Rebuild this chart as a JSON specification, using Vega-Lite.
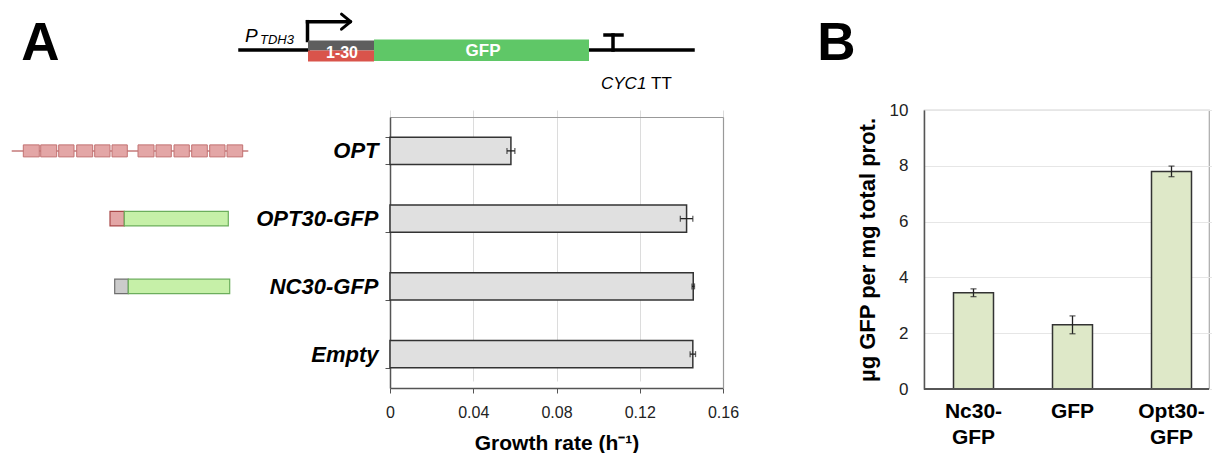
{
  "$schema": "https://vega.github.io/schema/vega-lite/v6.json",
  "padding": 0,
  "background": "white",
  "config": {
    "font": "Liberation Sans",
    "view": {"stroke": null},
    "axis": {"labelFont": "Liberation Sans", "titleFont": "Liberation Sans"}
  },
  "spacing": 0,
  "resolve": {"scale": {"x": "independent", "y": "independent", "color": "independent"}},
  "vconcat": [
    {
      "width": 1212,
      "height": 99,
      "layer": [
        {
          "data": {"values": [
            {"x": 24.0, "x2": 30.8, "y": 5.0, "y2": 5.0},
            {"x": 58.9, "x2": 69.3, "y": 5.0, "y2": 5.0},
            {"x": 30.75, "x2": 30.75, "y": 2.17, "y2": 4.05},
            {"x": 30.75, "x2": 34.9, "y": 2.17, "y2": 2.17},
            {"x": 61.3, "x2": 61.3, "y": 3.5, "y2": 5.0},
            {"x": 60.5, "x2": 62.2, "y": 3.5, "y2": 3.5}
          ]},
          "mark": {"type": "rule", "color": "#000", "strokeWidth": 3.5, "strokeCap": "square"},
          "encoding": {
            "x": {"field": "x", "type": "quantitative", "scale": {"domain": [0, 121.2], "nice": false, "zero": false}, "axis": null},
            "x2": {"field": "x2"},
            "y": {"field": "y", "type": "quantitative", "scale": {"domain": [0, 9.9], "nice": false, "zero": false, "reverse": true}, "axis": null},
            "y2": {"field": "y2"}
          }
        },
        {
          "data": {"values": [
            {"x": 34.15, "x2": 35.07, "y": 1.42, "y2": 2.17},
            {"x": 34.15, "x2": 35.07, "y": 2.92, "y2": 2.17}
          ]},
          "mark": {"type": "rule", "color": "#000", "strokeWidth": 3, "strokeCap": "round"},
          "encoding": {
            "x": {"field": "x", "type": "quantitative"},
            "x2": {"field": "x2"},
            "y": {"field": "y", "type": "quantitative"},
            "y2": {"field": "y2"}
          }
        },
        {
          "data": {"values": [
            {"part": "leader", "x": 30.8, "x2": 37.4, "y": 4.05, "y2": 5.05},
            {"part": "codons", "x": 30.8, "x2": 37.4, "y": 5.05, "y2": 6.15},
            {"part": "gfp", "x": 37.4, "x2": 58.9, "y": 3.95, "y2": 6.1}
          ]},
          "mark": {"type": "rect"},
          "encoding": {
            "x": {"field": "x", "type": "quantitative"},
            "x2": {"field": "x2"},
            "y": {"field": "y", "type": "quantitative"},
            "y2": {"field": "y2"},
            "color": {"field": "part", "type": "nominal", "scale": {"domain": ["leader", "codons", "gfp"], "range": ["#5e5e5e", "#d9544b", "#5fc767"]}, "legend": null}
          }
        },
        {
          "data": {"values": [{"label": "A", "x": 4.05, "y": 6.0}, {"label": "B", "x": 83.63, "y": 6.0}]},
          "mark": {"type": "text", "fontSize": 53, "fontWeight": "bold", "align": "center", "baseline": "alphabetic", "color": "#000"},
          "encoding": {
            "x": {"field": "x", "type": "quantitative"},
            "y": {"field": "y", "type": "quantitative"},
            "text": {"field": "label"}
          }
        },
        {
          "data": {"values": [{"label": "1-30", "x": 34.2, "y": 5.3}]},
          "mark": {"type": "text", "fontSize": 16, "fontWeight": "bold", "align": "center", "baseline": "middle", "color": "#fff"},
          "encoding": {
            "x": {"field": "x", "type": "quantitative"},
            "y": {"field": "y", "type": "quantitative"},
            "text": {"field": "label"}
          }
        },
        {
          "data": {"values": [{"label": "GFP", "x": 48.3, "y": 5.1}]},
          "mark": {"type": "text", "fontSize": 17, "fontWeight": "bold", "align": "center", "baseline": "middle", "color": "#fff"},
          "encoding": {
            "x": {"field": "x", "type": "quantitative"},
            "y": {"field": "y", "type": "quantitative"},
            "text": {"field": "label"}
          }
        },
        {
          "data": {"values": [{"label": "P", "x": 24.5, "y": 4.17}]},
          "mark": {"type": "text", "fontSize": 19, "fontStyle": "italic", "align": "left", "baseline": "alphabetic", "color": "#000"},
          "encoding": {
            "x": {"field": "x", "type": "quantitative"},
            "y": {"field": "y", "type": "quantitative"},
            "text": {"field": "label"}
          }
        },
        {
          "data": {"values": [{"label": "TDH3", "x": 26.0, "y": 4.42}]},
          "mark": {"type": "text", "fontSize": 13, "fontStyle": "italic", "align": "left", "baseline": "alphabetic", "color": "#000"},
          "encoding": {
            "x": {"field": "x", "type": "quantitative"},
            "y": {"field": "y", "type": "quantitative"},
            "text": {"field": "label"}
          }
        },
        {
          "data": {"values": [{"label": "CYC1", "x": 60.1, "y": 8.85}]},
          "mark": {"type": "text", "fontSize": 17, "fontStyle": "italic", "align": "left", "baseline": "alphabetic", "color": "#000"},
          "encoding": {
            "x": {"field": "x", "type": "quantitative"},
            "y": {"field": "y", "type": "quantitative"},
            "text": {"field": "label"}
          }
        },
        {
          "data": {"values": [{"label": "TT", "x": 65.1, "y": 8.85}]},
          "mark": {"type": "text", "fontSize": 17, "align": "left", "baseline": "alphabetic", "color": "#000"},
          "encoding": {
            "x": {"field": "x", "type": "quantitative"},
            "y": {"field": "y", "type": "quantitative"},
            "text": {"field": "label"}
          }
        }
      ]
    },
    {
      "spacing": 116,
      "resolve": {"scale": {"x": "independent", "y": "independent"}},
      "hconcat": [
        {
          "spacing": 0,
          "resolve": {"scale": {"x": "independent", "y": "independent"}},
          "hconcat": [
            {
              "width": 250,
              "height": 278,
              "data": {"values": [
                {"construct": "OPT", "part": "line", "x": 1.17, "x2": 24.83},
                {"construct": "OPT", "part": "opt", "x": 2.33, "x2": 3.93},
                {"construct": "OPT", "part": "opt", "x": 4.07, "x2": 5.67},
                {"construct": "OPT", "part": "opt", "x": 5.87, "x2": 7.4},
                {"construct": "OPT", "part": "opt", "x": 7.67, "x2": 9.27},
                {"construct": "OPT", "part": "opt", "x": 9.47, "x2": 11.0},
                {"construct": "OPT", "part": "opt", "x": 11.2, "x2": 12.73},
                {"construct": "OPT", "part": "opt", "x": 13.8, "x2": 15.4},
                {"construct": "OPT", "part": "opt", "x": 15.6, "x2": 17.13},
                {"construct": "OPT", "part": "opt", "x": 17.4, "x2": 18.93},
                {"construct": "OPT", "part": "opt", "x": 19.17, "x2": 20.73},
                {"construct": "OPT", "part": "opt", "x": 20.97, "x2": 22.5},
                {"construct": "OPT", "part": "opt", "x": 22.7, "x2": 24.27},
                {"construct": "OPT30-GFP", "part": "red", "x": 11.0, "x2": 12.43},
                {"construct": "OPT30-GFP", "part": "green", "x": 12.43, "x2": 22.83},
                {"construct": "NC30-GFP", "part": "gray", "x": 11.47, "x2": 12.83},
                {"construct": "NC30-GFP", "part": "green", "x": 12.83, "x2": 22.97}
              ]},
              "encoding": {
                "x": {"field": "x", "type": "quantitative", "scale": {"domain": [0, 25], "nice": false}, "axis": null},
                "x2": {"field": "x2"},
                "y": {"field": "construct", "type": "nominal", "scale": {"domain": ["OPT", "OPT30-GFP", "NC30-GFP", "Empty"], "range": [7, 278], "paddingInner": 0.6, "paddingOuter": 0.3}, "axis": null}
              },
              "layer": [
                {"transform": [{"filter": "datum.part == 'line'"}], "mark": {"type": "rule", "color": "#c47a7a", "strokeWidth": 1.5}},
                {"transform": [{"filter": "datum.part == 'opt'"}], "mark": {"type": "bar", "height": 12, "fill": "#e3a6a6", "stroke": "#c27272", "strokeWidth": 1}},
                {"transform": [{"filter": "datum.part == 'red'"}], "mark": {"type": "bar", "height": 14.5, "fill": "#e3a6a6", "stroke": "#a84848", "strokeWidth": 1.2}},
                {"transform": [{"filter": "datum.part == 'gray'"}], "mark": {"type": "bar", "height": 14.5, "fill": "#cbcbcb", "stroke": "#6e6e6e", "strokeWidth": 1.2}},
                {"transform": [{"filter": "datum.part == 'green'"}], "mark": {"type": "bar", "height": 14.5, "fill": "#c6f0a8", "stroke": "#6cae5c", "strokeWidth": 1.2}}
              ]
            },
            {
              "width": 333,
              "height": 278,
              "data": {"values": [
                {"construct": "OPT", "rate": 0.0581, "lo": 0.0562, "hi": 0.0600},
                {"construct": "OPT30-GFP", "rate": 0.1425, "lo": 0.1395, "hi": 0.1455},
                {"construct": "NC30-GFP", "rate": 0.1457, "lo": 0.1451, "hi": 0.1463},
                {"construct": "Empty", "rate": 0.1455, "lo": 0.1442, "hi": 0.1468}
              ]},
              "resolve": {"axis": {"x": "independent", "y": "independent"}},
              "layer": [
                {
                  "mark": {"type": "bar", "opacity": 0},
                  "encoding": {
                    "x": {"field": "rate", "type": "quantitative", "scale": {"domain": [0, 0.16], "nice": false},
                      "axis": {"orient": "top", "offset": -7, "labels": false, "ticks": false, "grid": false, "title": null, "domainColor": "#999", "domainWidth": 1.2}},
                    "y": {"field": "construct", "type": "nominal",
                      "scale": {"domain": ["OPT", "OPT30-GFP", "NC30-GFP", "Empty"], "range": [7, 278], "paddingInner": 0.6, "paddingOuter": 0.3},
                      "axis": {"orient": "right", "labels": false, "ticks": false, "grid": false, "title": null, "domainColor": "#999", "domainWidth": 1.2}}
                  }
                },
                {
                  "mark": {"type": "bar", "fill": "#e0e0e0", "stroke": "#333", "strokeWidth": 1.5},
                  "encoding": {
                    "x": {"field": "rate", "type": "quantitative", "title": "Growth rate (h⁻¹)",
                      "axis": {"orient": "bottom", "values": [0, 0.04, 0.08, 0.12, 0.16], "format": "~g", "grid": true, "gridColor": "#dcdcdc",
                        "tickSize": 5, "tickColor": "#555", "domainColor": "#555", "domainWidth": 1.5,
                        "labelFontSize": 16, "labelColor": "#222", "labelPadding": 11, "labelFlush": false,
                        "titleFontSize": 21, "titleFontWeight": "bold", "titleColor": "#000", "titlePadding": 12}},
                    "y": {"field": "construct", "type": "nominal",
                      "axis": {"orient": "left", "title": null, "labelFontSize": 22, "labelFontWeight": "bold", "labelFontStyle": "italic", "labelColor": "#000",
                        "tickBand": "extent", "tickSize": 5, "tickColor": "#555", "domainColor": "#555", "domainWidth": 1.5,
                        "labelPadding": 7, "minExtent": 140, "maxExtent": 140, "grid": false}}
                  }
                },
                {
                  "mark": {"type": "rule", "color": "#222", "strokeWidth": 1.3},
                  "encoding": {
                    "x": {"field": "lo", "type": "quantitative", "axis": null}, "x2": {"field": "hi"},
                    "y": {"field": "construct", "type": "nominal", "axis": null}
                  }
                },
                {
                  "mark": {"type": "tick", "color": "#222", "thickness": 1.3, "size": 6, "orient": "vertical"},
                  "encoding": {
                    "x": {"field": "lo", "type": "quantitative", "axis": null},
                    "y": {"field": "construct", "type": "nominal", "axis": null}
                  }
                },
                {
                  "mark": {"type": "tick", "color": "#222", "thickness": 1.3, "size": 6, "orient": "vertical"},
                  "encoding": {
                    "x": {"field": "hi", "type": "quantitative", "axis": null},
                    "y": {"field": "construct", "type": "nominal", "axis": null}
                  }
                }
              ]
            }
          ]
        },
        {
          "width": 285,
          "height": 279,
          "view": {"stroke": "#aaa", "strokeWidth": 1.2},
          "data": {"values": [
            {"sample": "Nc30-GFP", "ug": 3.45, "lo": 3.31, "hi": 3.59},
            {"sample": "GFP", "ug": 2.30, "lo": 1.98, "hi": 2.62},
            {"sample": "Opt30-GFP", "ug": 7.80, "lo": 7.61, "hi": 7.99}
          ]},
          "encoding": {
            "x": {"field": "sample", "type": "nominal", "sort": null,
              "scale": {"range": [0, 297], "paddingInner": 0.596, "paddingOuter": 0.298},
              "axis": {"title": null, "labelAngle": 0, "labelFontSize": 21, "labelFontWeight": "bold", "labelColor": "#000",
                "labelExpr": "datum.value == 'GFP' ? 'GFP' : [replace(datum.value, 'GFP', ''), 'GFP']",
                "labelLineHeight": 26, "labelPadding": 11, "labelBaseline": "top", "ticks": false, "domain": false}}
          },
          "layer": [
            {
              "mark": {"type": "bar", "fill": "#dee8c8", "stroke": "#333", "strokeWidth": 1.5},
              "encoding": {
                "y": {"field": "ug", "type": "quantitative", "title": "µg GFP per mg total prot.",
                  "scale": {"domain": [0, 10], "nice": false},
                  "axis": {"values": [0, 2, 4, 6, 8, 10], "grid": true, "gridColor": "#e6e6e6", "ticks": false,
                    "domainColor": "#555", "domainWidth": 1.5, "labelFontSize": 17, "labelColor": "#222", "labelPadding": 16,
                    "titleFontSize": 22, "titleFontWeight": "bold", "titleColor": "#000", "titlePadding": 10}}
              }
            },
            {
              "mark": {"type": "rule", "color": "#222", "strokeWidth": 1.3},
              "encoding": {"y": {"field": "lo", "type": "quantitative", "title": "µg GFP per mg total prot."}, "y2": {"field": "hi"}}
            },
            {
              "mark": {"type": "tick", "color": "#222", "thickness": 1.3, "size": 6, "orient": "horizontal"},
              "encoding": {"y": {"field": "lo", "type": "quantitative", "title": "µg GFP per mg total prot."}}
            },
            {
              "mark": {"type": "tick", "color": "#222", "thickness": 1.3, "size": 6, "orient": "horizontal"},
              "encoding": {"y": {"field": "hi", "type": "quantitative", "title": "µg GFP per mg total prot."}}
            },
            {
              "mark": {"type": "rule", "color": "#555", "strokeWidth": 1.5},
              "encoding": {"y": {"datum": 0, "type": "quantitative"}, "x": {"value": 0}, "x2": {"value": 285}}
            }
          ]
        }
      ]
    }
  ]
}
